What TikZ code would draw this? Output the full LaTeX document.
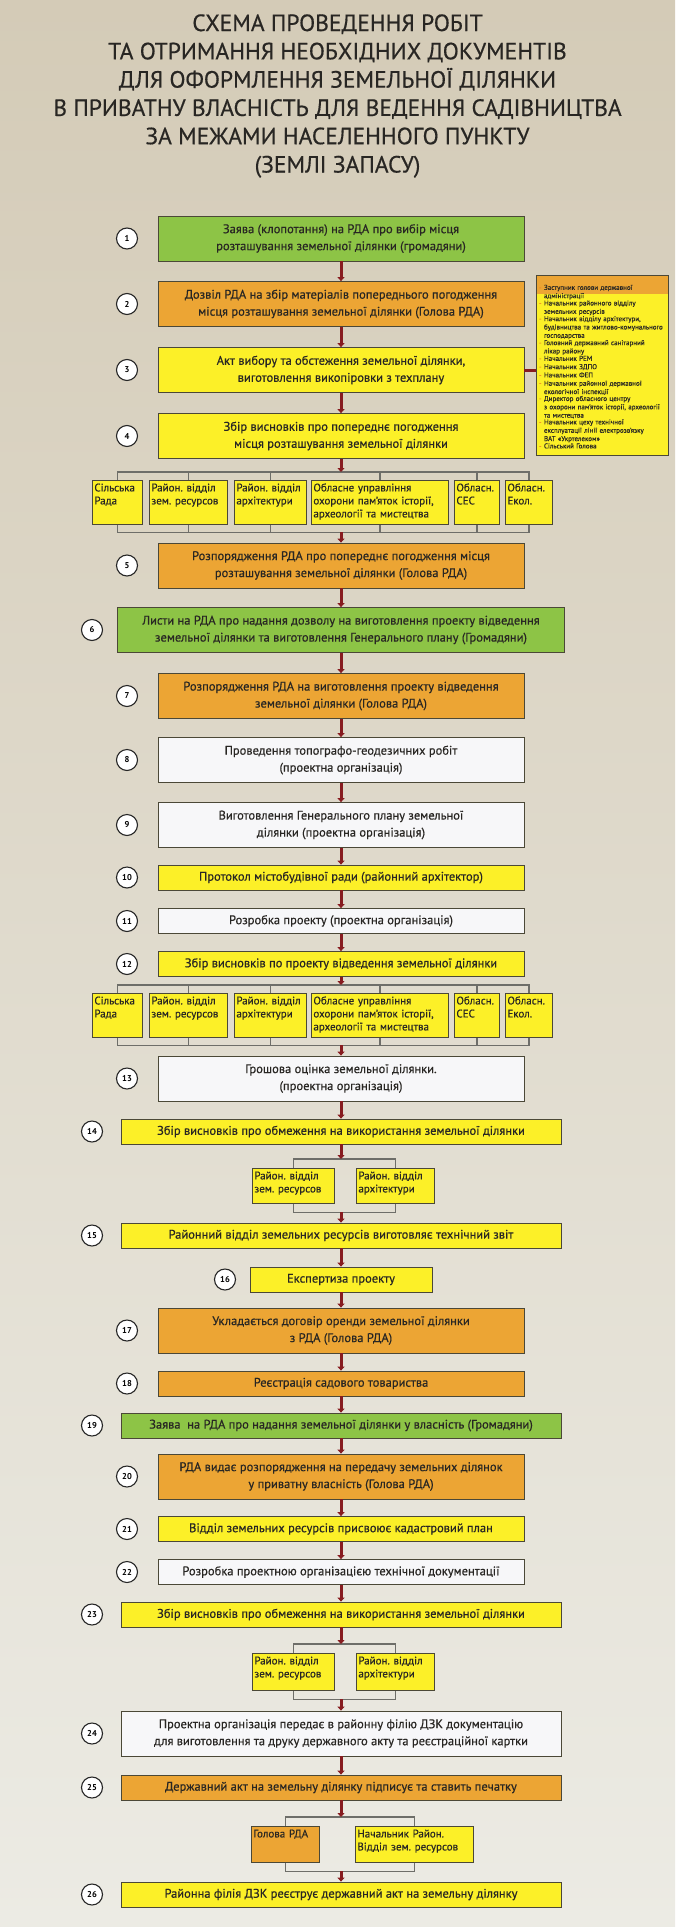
\documentclass[tikz,border=0pt]{standalone}
\usepackage{fontspec}
\setmainfont{PT Sans}
\newfontfamily\boxfont[FakeBold=0.5]{PT Sans}
\usepackage{xcolor}
\usepackage{tikz}
\usetikzlibrary{arrows.meta}
\definecolor{grn}{RGB}{141,196,70}
\definecolor{org}{RGB}{236,165,52}
\definecolor{ylw}{RGB}{252,240,40}
\definecolor{wht}{RGB}{247,247,249}
\definecolor{edge}{RGB}{75,72,55}
\definecolor{arr}{RGB}{135,28,32}
\definecolor{brkcol}{RGB}{110,110,105}
\definecolor{bgtop}{RGB}{212,203,183}
\definecolor{bgbot}{RGB}{236,235,228}
\definecolor{ink}{RGB}{40,38,35}
\newcommand\sideitem[1]{\par\noindent\makebox[5pt][l]{\textcolor{org!75!red}{-}}\parbox[t]{121pt}{\fontsize{7}{8.3}\selectfont#1}}

\begin{document}
\frenchspacing
\begin{tikzpicture}[x=1pt,y=-1pt,>={Triangle[width=7pt,length=4pt]},
  box/.style={draw=edge,line width=0.8pt,align=center,inner sep=2pt,text=ink,font=\boxfont\fontsize{12.5}{17}\selectfont},
  narrow/.style={box,minimum width=366pt},
  wide/.style={box,minimum width=440pt},
  tall/.style={minimum height=45pt},
  low/.style={minimum height=25pt},
  sub/.style={draw=edge,line width=0.8pt,fill=ylw,anchor=north west,align=left,inner sep=2pt,text=ink,font=\boxfont\fontsize{11}{13}\selectfont,text height=9pt},
  num/.style={circle,draw=black!85,fill=white,line width=1.1pt,minimum size=21pt,inner sep=0pt,font=\fontsize{8.5}{9}\selectfont\bfseries},
  flow/.style={->,draw=arr,line width=3pt},
  brk/.style={draw=brkcol,line width=1.3pt}]
  \shade[top color=bgtop,bottom color=bgbot] (0,0) rectangle (675,1927);
  \useasboundingbox (0,0) rectangle (675,1927);

  \node[align=center,text=ink,font=\boxfont\fontsize{23.5}{28.3}\selectfont] (title) at (337.5,96)
    {СХЕМА ПРОВЕДЕННЯ РОБІТ\\ТА ОТРИМАННЯ НЕОБХІДНИХ ДОКУМЕНТІВ\\ДЛЯ ОФОРМЛЕННЯ ЗЕМЕЛЬНОЇ ДІЛЯНКИ\\В ПРИВАТНУ ВЛАСНІСТЬ ДЛЯ ВЕДЕННЯ САДІВНИЦТВА\\ЗА МЕЖАМИ НАСЕЛЕННОГО ПУНКТУ\\(ЗЕМЛІ ЗАПАСУ)};

  \node[narrow,tall,fill=grn] (b1) at (341,238.5) {Заява (клопотання) на РДА про вибір місця\\розташування земельної ділянки (громадяни)};
  \node[narrow,tall,fill=org] (b2) at (341,304) {Дозвіл РДА на збір матеріалів попереднього погодження\\місця розташування земельної ділянки (Голова РДА)};
  \node[narrow,tall,fill=ylw] (b3) at (341,370) {Акт вибору та обстеження земельної ділянки,\\виготовлення викопіровки з техплану};
  \node[narrow,tall,fill=ylw] (b4) at (341,436) {Збір висновків про попереднє погодження\\місця розташування земельної ділянки};
  \node[narrow,tall,fill=org] (b5) at (341,565.5) {Розпорядження РДА про попереднє погодження місця\\розташування земельної ділянки (Голова РДА)};
  \node[box,tall,fill=grn,minimum width=447pt] (b6) at (341,630) {Листи на РДА про надання дозволу на виготовлення проекту відведення\\земельної ділянки та виготовлення Генерального плану (Громадяни)};
  \node[narrow,tall,fill=org] (b7) at (341,696) {Розпорядження РДА на виготовлення проекту відведення\\земельної ділянки (Голова РДА)};
  \node[narrow,tall,fill=wht] (b8) at (341,760) {Проведення топографо-геодезичних робіт\\(проектна організація)};
  \node[narrow,tall,fill=wht] (b9) at (341,825) {Виготовлення Генерального плану земельної\\ділянки (проектна організація)};
  \node[narrow,low,fill=ylw] (b10) at (341,877.5) {Протокол містобудівної ради (районний архітектор)};
  \node[narrow,low,fill=wht] (b11) at (341,921) {Розробка проекту (проектна організація)};
  \node[narrow,low,fill=ylw] (b12) at (341,964) {Збір висновків по проекту відведення земельної ділянки};
  \node[narrow,tall,fill=wht] (b13) at (341,1078.5) {Грошова оцінка земельної ділянки.\\(проектна організація)};
  \node[wide,low,fill=ylw] (b14) at (341,1131.5) {Збір висновків про обмеження на використання земельної ділянки};
  \node[wide,low,fill=ylw] (b15) at (341,1235.5) {Районний відділ земельних ресурсів виготовляє технічний звіт};
  \node[box,low,fill=ylw,minimum width=182pt] (b16) at (341,1279.5) {Експертиза проекту};
  \node[narrow,tall,fill=org] (b17) at (341,1330.5) {Укладається договір оренди земельної ділянки\\з РДА (Голова РДА)};
  \node[narrow,low,fill=org] (b18) at (341,1383.5) {Реєстрація садового товариства};
  \node[wide,low,fill=grn] (b19) at (341,1425.5) {Заява\ \ на РДА про надання земельної ділянки у власність (Громадяни)};
  \node[narrow,tall,fill=org] (b20) at (341,1476.5) {РДА видає розпорядження на передачу земельних ділянок\\у приватну власність (Голова РДА)};
  \node[narrow,low,fill=ylw] (b21) at (341,1529) {Відділ земельних ресурсів присвоює кадастровий план};
  \node[narrow,low,fill=wht] (b22) at (341,1572) {Розробка проектною організацією технічної документації};
  \node[wide,low,fill=ylw] (b23) at (341,1614.5) {Збір висновків про обмеження на використання земельної ділянки};
  \node[wide,tall,fill=wht] (b24) at (341,1733.5) {Проектна організація передає в районну філію ДЗК документацію\\для виготовлення та друку державного акту та реєстраційної картки};
  \node[wide,low,fill=org] (b25) at (341,1787.5) {Державний акт на земельну ділянку підписує та ставить печатку};
  \node[wide,low,fill=ylw] (b26) at (341,1894.5) {Районна філія ДЗК реєструє державний акт на земельну ділянку};

  \node[draw=edge,line width=0.8pt,fill=ylw,minimum width=132pt,minimum height=180pt,text width=126pt,inner sep=3pt,
    align=left,text=ink,font=\boxfont\fontsize{7}{8.3}\selectfont,
    path picture={\fill[org] (path picture bounding box.north west) rectangle ([yshift=-19pt]path picture bounding box.north east);}]
    (side) at (602,365) {%
    \sideitem{Заступник голови державної\\адміністрації}
    \sideitem{Начальник районного відділу\\земельних ресурсів}
    \sideitem{Начальник відділу архітектури,\\будівництва та житлово-комунального\\господарства}
    \sideitem{Головний державний санітарний\\лікар району}
    \sideitem{Начальник РЕМ}
    \sideitem{Начальник ЗДПО}
    \sideitem{Начальник ФЕП}
    \sideitem{Начальник районної державної\\екологічної інспекції}
    \sideitem{Директор обласного центру\\з охорони пам’яток історії, археології\\та мистецтва}
    \sideitem{Начальник цеху технічної\\експлуатації лінії електрозв’язку\\ВАТ «Укртелеком»}
    \sideitem{Сільський Голова}};
  \draw[draw=arr,line width=3pt] (b3.east) -- (b3.east -| side.west);

  \foreach \r/\y in {a/480,d/993}{
    \foreach \i/\x/\w/\t in {1/92/46/{Сільська\\Рада},2/149/74/{Район. відділ\\зем. ресурсов},3/234/68/{Район. відділ\\архітектури},
      4/311/133/{Обласне управління\\охорони пам’яток історії,\\археології та мистецтва},5/454/41/{Обласн.\\СЕС},6/505/43/{Обласн.\\Екол.}}
      \node[sub,text width=\w pt,text depth=31pt] (\r\i) at (\x,\y) {\t};
    \draw[brk] (\r1.north) -- ++(0,-8) -| (\r6.north);
    \draw[brk] (\r1.south) -- ++(0,8) -| (\r6.south);
    \foreach \k in {2,...,5}
      \draw[brk] (\r\k.north) -- ++(0,-8) (\r\k.south) -- ++(0,8);
  }

  \foreach \r/\y/\d in {e/1168/22,f/1653/24}{
    \node[sub,text width=78pt,text depth=\d pt] (\r1) at (252,\y) {Район. відділ\\зем. ресурсов};
    \node[sub,text width=74pt,text depth=\d pt] (\r2) at (356,\y) {Район. відділ\\архітектури};
  }
  \node[sub,fill=org,text width=64pt,text depth=23pt] (g1) at (251,1826) {Голова РДА};
  \node[sub,text width=114pt,text depth=23pt] (g2) at (355,1826) {Начальник Район.\\Відділ зем. ресурсов};
  \foreach \r in {e,f,g}{
    \draw[brk] (\r1.north) -- ++(0,-9) -| (\r2.north);
    \draw[brk] (\r1.south) -- ++(0,9) -| (\r2.south);
  }

  \coordinate (t1) at (341,472);
  \coordinate (u1) at (341,532);
  \coordinate (t2) at (341,985);
  \coordinate (u2) at (341,1045);
  \coordinate (t3) at (341,1159);
  \coordinate (u3) at (341,1212);
  \coordinate (t4) at (341,1644);
  \coordinate (u4) at (341,1699);
  \coordinate (t5) at (341,1817);
  \coordinate (u5) at (341,1871);

  \foreach \p/\q in {b1/b2,b2/b3,b3/b4,b4/t1,u1/b5,b5/b6,b6/b7,b7/b8,b8/b9,b9/b10,b10/b11,b11/b12,b12/t2,u2/b13,
    b13/b14,b14/t3,u3/b15,b15/b16,b16/b17,b17/b18,b18/b19,b19/b20,b20/b21,b21/b22,b22/b23,b23/t4,u4/b24,b24/b25,b25/t5,u5/b26}
    \draw[flow] (\p) -- (\q);

  \foreach \n/\x/\y in {1/127/238.5,2/127/304,3/127/370,4/127/436,5/127/565.5,6/92/630,7/127/696,8/127/760,9/127/825,
    10/127/877.5,11/127/921,12/127/964,13/127/1078.5,14/92/1131.5,15/92/1235.5,16/225/1279.5,17/127/1330.5,18/127/1383.5,
    19/92/1425.5,20/127/1476.5,21/127/1529,22/127/1572,23/92/1614.5,24/92/1733.5,25/92/1787.5,26/92/1894.5}
    \node[num] (c\n) at (\x,\y) {\n};
\end{tikzpicture}
\end{document}
